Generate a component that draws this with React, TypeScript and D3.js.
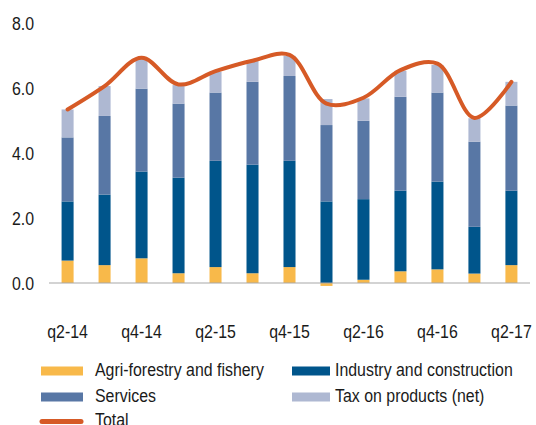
import React from 'react';
import * as d3 from 'd3';

const quarters = ['q2-14', 'q3-14', 'q4-14', 'q1-15', 'q2-15', 'q3-15', 'q4-15', 'q1-16', 'q2-16', 'q3-16', 'q4-16', 'q1-17', 'q2-17'];
const agri = [0.69, 0.55, 0.76, 0.30, 0.49, 0.30, 0.49, -0.09, 0.10, 0.36, 0.42, 0.29, 0.55];
const industry = [1.82, 2.17, 2.67, 2.94, 3.27, 3.34, 3.27, 2.51, 2.48, 2.48, 2.70, 1.44, 2.29];
const services = [1.97, 2.42, 2.55, 2.28, 2.10, 2.55, 2.61, 2.35, 2.41, 2.89, 2.74, 2.62, 2.62];
const tax = [0.86, 0.92, 0.93, 0.57, 0.64, 0.64, 0.62, 0.80, 0.69, 0.80, 0.85, 0.72, 0.73];
const total = [5.34, 6.06, 6.93, 6.11, 6.52, 6.84, 7.02, 5.52, 5.70, 6.55, 6.75, 5.08, 6.19];
const yTicks = [0, 2, 4, 6, 8];
const xLabelEvery = 2;

const W = 536;
const H = 425;
const font = '"Liberation Sans", Arial, sans-serif';
const FS = 18.5;
const SX = 0.86; // squeeze to mimic the narrow face

const colors = {
  agri: '#f8b94a',
  industry: '#00558b',
  services: '#5877a5',
  tax: '#aeb8d2',
  total: '#d65a26',
};

function Label({ x, y, anchor = 'start', children }: { x: number; y: number; anchor?: string; children: React.ReactNode }) {
  return (
    <text transform={`translate(${x},${y}) scale(${SX},1)`} textAnchor={anchor} fontSize={FS} fill="#1a1a1a">
      {children}
    </text>
  );
}

export default function App() {
  const x = d3.scaleBand().domain(quarters).range([49, 530]).paddingInner(0.675).paddingOuter(0.34);
  const y = d3.scaleLinear().domain([0, 8]).range([283, 23]);

  const series = [
    { key: 'agri', vals: agri },
    { key: 'industry', vals: industry },
    { key: 'services', vals: services },
    { key: 'tax', vals: tax },
  ];

  // stack positives from zero; negative agri goes below
  const rects: { q: string; y0: number; y1: number; color: string }[] = [];
  quarters.forEach((q, i) => {
    let pos = 0;
    let neg = 0;
    series.forEach(s => {
      const v = s.vals[i];
      if (v >= 0) {
        rects.push({ q, y0: pos, y1: pos + v, color: (colors as any)[s.key] });
        pos += v;
      } else {
        rects.push({ q, y0: neg + v, y1: neg, color: (colors as any)[s.key] });
        neg += v;
      }
    });
  });

  const line = d3.line<number>()
    .x((_, i) => (x(quarters[i]) as number) + x.bandwidth() / 2)
    .y(d => y(d))
    .curve(d3.curveCatmullRom.alpha(0.5));

  const legend = [
    { label: 'Agri-forestry and fishery', color: colors.agri, col: 0, row: 0 },
    { label: 'Industry and construction', color: colors.industry, col: 1, row: 0 },
    { label: 'Services', color: colors.services, col: 0, row: 1 },
    { label: 'Tax on products (net)', color: colors.tax, col: 1, row: 1 },
  ];
  const rowY = [371, 397, 421.5];

  return (
    <svg width={W} height={H} style={{ position: 'absolute', left: 0, top: 0, background: '#fff' }} fontFamily={font}>
      {yTicks.map(t => (
        <Label key={t} x={34} y={y(t) + 6.5} anchor="end">{t.toFixed(1)}</Label>
      ))}
      {rects.map((r, i) => (
        <rect key={i} x={x(r.q)} width={x.bandwidth()} y={y(r.y1)} height={y(r.y0) - y(r.y1)} fill={r.color} />
      ))}
      <line x1={49} x2={530} y1={y(0)} y2={y(0)} stroke="#a8a8a8" strokeWidth={1.2} />
      <path d={line(total) || ''} fill="none" stroke={colors.total} strokeWidth={4} strokeLinecap="round" />
      {quarters.map((q, i) => i % xLabelEvery === 0 ? (
        <Label key={q} x={(x(q) as number) + x.bandwidth() / 2} y={337.5} anchor="middle">{q}</Label>
      ) : null)}
      {legend.map(l => {
        const lx = l.col === 0 ? 41 : 292;
        const ly = rowY[l.row];
        return (
          <g key={l.label}>
            <rect x={lx} y={ly - 4.5} width={l.col === 0 ? 42 : 38} height={9} fill={l.color} />
            <Label x={l.col === 0 ? 95 : 335} y={ly + 4.5}>{l.label}</Label>
          </g>
        );
      })}
      <line x1={42} x2={81} y1={rowY[2]} y2={rowY[2]} stroke={colors.total} strokeWidth={5} strokeLinecap="round" />
      <Label x={95} y={rowY[2] + 4.5}>Total</Label>
    </svg>
  );
}
